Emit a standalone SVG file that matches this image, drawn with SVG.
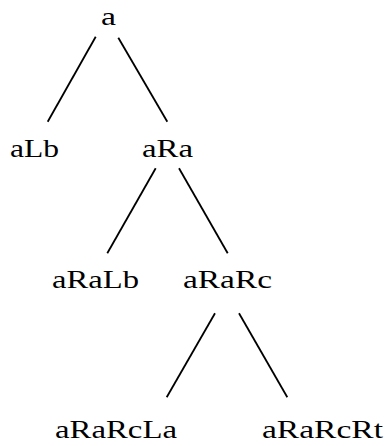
<svg xmlns="http://www.w3.org/2000/svg" width="386" height="446" viewBox="0 0 386 446">
<style>
text{font-family:"Liberation Serif","DejaVu Serif",serif;font-size:26px;fill:#000}
line{stroke:#000;stroke-width:1.8}
</style>
<rect width="386" height="446" fill="#fff"/>
<g id="connectors">
<line x1="95.7" y1="36.7" x2="47.7" y2="121.7"/>
<line x1="118.3" y1="37.7" x2="167.3" y2="121.7"/>
<line x1="155.7" y1="168.3" x2="107.3" y2="253.3"/>
<line x1="179" y1="168.3" x2="227.7" y2="253.3"/>
<line x1="215" y1="313.3" x2="166.7" y2="397.3"/>
<line x1="239" y1="313.3" x2="287.3" y2="397.3"/>
</g>
<g id="n_a"><text x="101" y="25" textLength="15" lengthAdjust="spacingAndGlyphs">a</text></g>
<g id="n_aLb"><text x="10" y="157" textLength="49" lengthAdjust="spacingAndGlyphs">aLb</text></g>
<g id="n_aRa"><text x="142" y="157" textLength="51" lengthAdjust="spacingAndGlyphs">aRa</text></g>
<g id="n_aRaLb"><text x="52" y="288" textLength="87" lengthAdjust="spacingAndGlyphs">aRaLb</text></g>
<g id="n_aRaRc"><text x="183" y="288" textLength="89" lengthAdjust="spacingAndGlyphs">aRaRc</text></g>
<g id="n_aRaRcLa"><text x="55" y="438" textLength="122" lengthAdjust="spacingAndGlyphs">aRaRcLa</text></g>
<g id="n_aRaRcRt"><text x="262" y="438" textLength="121" lengthAdjust="spacingAndGlyphs">aRaRcRt</text></g>
</svg>
